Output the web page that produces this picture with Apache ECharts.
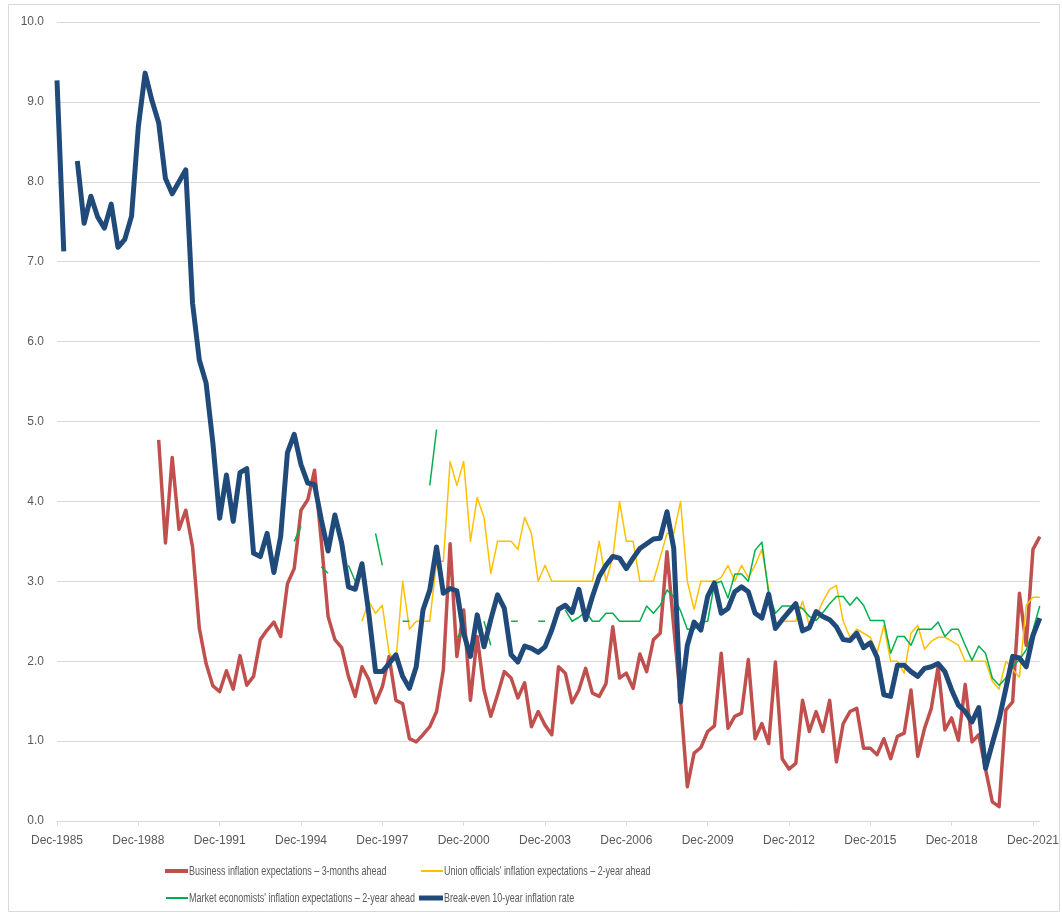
<!DOCTYPE html>
<html>
<head>
<meta charset="utf-8">
<script src="https://cdn.jsdelivr.net/npm/echarts@6/dist/echarts.min.js"></script>
<style>
  html, body { margin: 0; padding: 0; background: #fff; }
  #chart { width: 1062px; height: 914px; }
</style>
</head>
<body>
<div id="chart"></div>
<script>
// Quarterly categories, Dec-1985 .. Mar-2022
const quarterNames = ['Mar', 'Jun', 'Sep', 'Dec'];
const categories = [];
for (let i = 0; i < 146; i++) {
  categories.push(quarterNames[(i + 3) % 4] + '-' + (1985 + Math.floor((i + 3) / 4)));
}

const seriesNames = [
  'Business inflation expectations – 3-months ahead',
  "Union officials' inflation expectations – 2-year ahead",
  "Market economists' inflation expectations – 2-year ahead",
  'Break-even 10-year inflation rate'
];

const businessExp = [
  null,null,null,null,null,null,null,null,null,null,
  null,null,null,null,null,4.77,3.48,4.55,3.65,3.89,
  3.43,2.41,1.97,1.69,1.62,1.88,1.65,2.07,1.70,1.81,
  2.27,2.39,2.49,2.31,2.97,3.16,3.89,4.02,4.39,3.50,
  2.56,2.27,2.17,1.81,1.56,1.93,1.77,1.48,1.68,2.06,
  1.51,1.47,1.03,0.99,1.08,1.18,1.37,1.89,3.47,2.06,
  2.64,1.51,2.31,1.64,1.31,1.58,1.87,1.79,1.54,1.73,
  1.18,1.37,1.20,1.08,1.93,1.85,1.48,1.64,1.91,1.60,
  1.56,1.72,2.43,1.79,1.85,1.66,2.09,1.87,2.27,2.35,
  3.37,2.43,1.51,0.43,0.85,0.92,1.12,1.19,2.10,1.16,
  1.31,1.35,2.02,1.03,1.22,0.97,1.99,0.78,0.65,0.72,
  1.51,1.12,1.37,1.12,1.51,0.74,1.22,1.37,1.41,0.91,
  0.91,0.83,1.03,0.78,1.06,1.10,1.64,0.81,1.16,1.41,
  1.93,1.14,1.29,1.01,1.71,0.99,1.08,0.65,0.24,0.18,
  1.39,1.49,2.85,2.20,3.40,3.56
];

const unionExp = [
  null,null,null,null,null,null,null,null,null,null,
  null,null,null,null,null,null,null,null,null,null,
  null,null,null,null,null,null,null,null,null,null,
  null,null,null,null,null,null,null,null,null,null,
  null,null,null,null,null,2.50,2.75,2.60,2.70,2.10,
  2.00,3.00,2.40,2.50,2.50,2.50,3.25,3.25,4.50,4.20,
  4.50,3.50,4.05,3.80,3.10,3.50,3.50,3.50,3.40,3.80,
  3.60,3.00,3.20,3.00,3.00,3.00,3.00,3.00,3.00,3.00,
  3.50,3.00,3.30,4.00,3.50,3.50,3.00,3.00,3.00,3.30,
  3.60,3.60,4.00,3.00,2.65,3.00,3.00,3.00,3.05,3.20,
  3.00,3.20,3.05,3.20,3.40,2.90,2.45,2.50,2.50,2.50,
  2.75,2.45,2.55,2.75,2.90,2.95,2.50,2.30,2.40,2.35,
  2.30,2.10,2.45,2.00,2.00,1.85,2.35,2.45,2.15,2.25,
  2.30,2.30,2.25,2.20,2.00,2.00,2.00,2.00,1.75,1.65,
  2.00,1.90,1.80,2.70,2.80,2.80
];

const marketExp = [
  null,null,null,null,null,null,null,null,null,null,
  null,null,null,null,null,null,null,null,null,null,
  null,null,null,null,null,null,null,null,null,null,
  null,null,null,null,null,3.50,3.69,null,null,3.18,
  3.10,null,null,3.20,3.00,null,null,3.60,3.20,null,
  null,2.50,2.50,null,null,4.20,4.90,null,null,2.30,
  2.38,null,null,2.50,2.20,null,null,2.50,2.50,null,
  null,2.50,2.50,null,null,2.64,2.50,2.55,2.62,2.50,
  2.50,2.60,2.60,2.50,2.50,2.50,2.50,2.69,2.60,2.70,
  2.89,2.81,2.63,2.40,2.40,2.49,2.50,2.97,3.00,2.79,
  3.09,3.09,3.00,3.39,3.49,2.85,2.60,2.69,2.69,2.69,
  2.66,2.56,2.51,2.61,2.72,2.81,2.81,2.70,2.80,2.70,
  2.51,2.51,2.51,2.10,2.31,2.31,2.20,2.40,2.40,2.40,
  2.49,2.31,2.40,2.40,2.20,2.01,2.19,2.10,1.79,1.70,
  1.79,1.93,2.02,2.14,2.39,2.69
];

const breakEven = [
  9.27,7.13,null,8.26,7.48,7.82,7.56,7.42,7.72,7.18,
  7.28,7.57,8.69,9.36,9.02,8.74,8.04,7.85,8.00,8.15,
  6.48,5.77,5.48,4.73,3.79,4.33,3.75,4.36,4.41,3.35,
  3.31,3.60,3.11,3.56,4.61,4.84,4.46,4.23,4.21,3.77,
  3.38,3.83,3.48,2.93,2.90,3.22,2.60,1.87,1.87,1.97,
  2.08,1.81,1.66,1.93,2.64,2.89,3.43,2.85,2.91,2.88,
  2.35,2.06,2.58,2.18,2.52,2.83,2.66,2.08,1.99,2.19,
  2.16,2.11,2.18,2.39,2.65,2.70,2.61,2.90,2.52,2.81,
  3.06,3.20,3.31,3.29,3.16,3.29,3.41,3.47,3.53,3.54,
  3.87,3.41,1.49,2.20,2.49,2.39,2.81,2.98,2.60,2.66,
  2.87,2.93,2.87,2.60,2.54,2.84,2.41,2.52,2.62,2.72,
  2.38,2.42,2.62,2.56,2.52,2.43,2.27,2.26,2.35,2.17,
  2.23,2.05,1.58,1.56,1.95,1.95,1.87,1.81,1.91,1.93,
  1.97,1.87,1.64,1.45,1.37,1.24,1.42,0.66,0.97,1.27,
  1.66,2.06,2.04,1.93,2.32,2.54
];

const colors = ['#C0504D', '#FFC000', '#00B050', '#1F4A7A'];
const widths = [3.5, 1.5, 1.5, 5];
const dataSets = [businessExp, unionExp, marketExp, breakEven];

const textColor = '#595959';
const gridColor = '#D9D9D9';
const fontFam = "'Liberation Sans', Arial, sans-serif";

// legend layout (icon left, icon width, icon thickness, row centre)
const legendLayout = [
  { x: 165, w: 23, h: 4, y: 871 },
  { x: 421, w: 22, h: 2, y: 871 },
  { x: 166, w: 22, h: 2, y: 898 },
  { x: 419, w: 24, h: 5, y: 898 }
];

const legendGraphics = [];
legendLayout.forEach((p, i) => {
  legendGraphics.push({
    type: 'rect',
    shape: { x: p.x, y: p.y - p.h / 2, width: p.w, height: p.h },
    style: { fill: colors[i] },
    silent: true
  });
  legendGraphics.push({
    type: 'text',
    x: p.x + p.w + 1,
    y: p.y,
    scaleX: 0.69,
    style: {
      text: seriesNames[i],
      fill: textColor,
      fontSize: 13,
      fontFamily: fontFam,
      align: 'left',
      verticalAlign: 'middle'
    },
    silent: true
  });
});

const chart = echarts.init(document.getElementById('chart'), null, { renderer: 'canvas' });

chart.setOption({
  animation: false,
  backgroundColor: '#ffffff',
  graphic: [{
    type: 'rect',
    shape: { x: 8.5, y: 4.5, width: 1051, height: 907 },
    style: { fill: 'none', stroke: gridColor, lineWidth: 1 },
    silent: true,
    z: -10
  }].concat(legendGraphics),
  legend: { show: false, data: seriesNames },
  grid: { left: 57, right: 20, top: 22, bottom: 93, containLabel: false },
  xAxis: {
    type: 'category',
    data: categories,
    boundaryGap: false,
    axisLine: { lineStyle: { color: gridColor, width: 1 } },
    axisTick: { show: true, interval: 11, length: 5, lineStyle: { color: gridColor } },
    axisLabel: { interval: 11, color: textColor, fontSize: 12, fontFamily: fontFam, margin: 14 },
    splitLine: { show: false }
  },
  yAxis: {
    type: 'value',
    min: 0,
    max: 10,
    interval: 1,
    axisLine: { show: false },
    axisTick: { show: false },
    axisLabel: {
      color: textColor, fontSize: 12, fontFamily: fontFam, margin: 13,
      formatter: v => v.toFixed(1)
    },
    splitLine: { lineStyle: { color: gridColor, width: 1 } }
  },
  series: dataSets.map((d, i) => ({
    name: seriesNames[i],
    type: 'line',
    data: d,
    symbol: 'none',
    showSymbol: false,
    connectNulls: false,
    lineStyle: { color: colors[i], width: widths[i], join: 'round', cap: 'butt' },
    itemStyle: { color: colors[i] },
    emphasis: { disabled: true },
    z: 2 + i
  }))
});
</script>
</body>
</html>
